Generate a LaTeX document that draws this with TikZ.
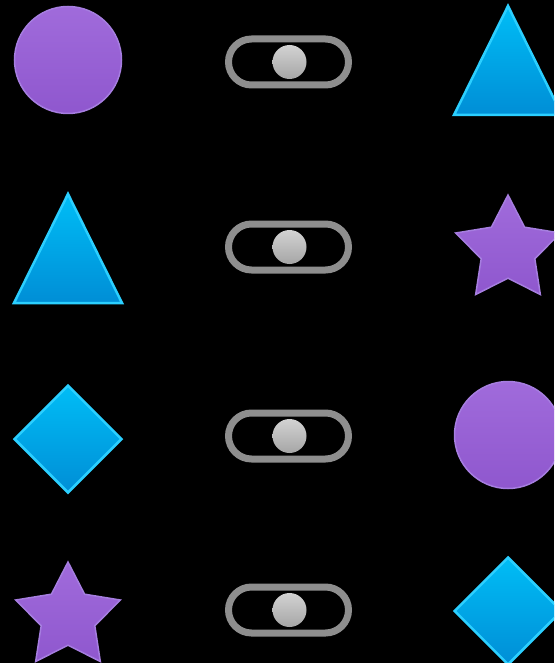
\documentclass[tikz,border=0pt]{standalone}
\usepackage{tikz}
\usepackage{xcolor}
\usetikzlibrary{shapes.geometric}

\definecolor{lilac}{HTML}{A06BDB}
\definecolor{lilacdark}{HTML}{8F57CE}
\definecolor{lilacedge}{HTML}{A67EE0}
\definecolor{skyblue}{HTML}{00BDF6}
\definecolor{skydark}{HTML}{008ED6}
\definecolor{skyedge}{HTML}{2BCFFF}
\definecolor{slidegray}{HTML}{8E8E8E}

\tikzset{
  purpleshape/.style={top color=lilac, bottom color=lilacdark, draw=lilacedge, line width=1.5pt, inner sep=0pt},
  blueshape/.style={top color=skyblue, bottom color=skydark, draw=skyedge, line width=2.5pt, inner sep=0pt},
  toggle/.style={draw=slidegray, line width=7pt, rounded corners=23pt, minimum width=120pt, minimum height=46pt, inner sep=0pt},
  knob/.style={circle, top color=gray!35, bottom color=gray!70, minimum size=34pt, inner sep=0pt}
}

\begin{document}
\begin{tikzpicture}[x=1pt,y=-1pt]
\clip (0,0) rectangle (554,663);
\fill[black] (0,0) rectangle (554,663);

% left column
\node[circle, purpleshape, minimum size=107pt] (circleL) at (68,60) {};
\draw[blueshape] (68,194) -- (122,303) -- (14,303) -- cycle;
\node[diamond, aspect=1, blueshape, minimum size=108pt] (diamondL) at (68,439) {};
\node[star, star points=5, star point ratio=1.95, purpleshape, minimum size=110pt] (starL) at (68,617) {};

% switches
\foreach \y/\n in {62/1, 247/2, 436/3, 610/4} {
  \node[toggle] (switch\n) at (288.5,\y) {};
  \node[knob] (knob\n) at (289.5,\y) {};
}

% right column
\draw[blueshape] (508,6) -- (562,115) -- (454,115) -- cycle;
\node[star, star points=5, star point ratio=1.95, purpleshape, minimum size=110pt] (starR) at (508,250) {};
\node[circle, purpleshape, minimum size=107pt] (circleR) at (508,435) {};
\node[diamond, aspect=1, blueshape, minimum size=108pt] (diamondR) at (508,611) {};
\end{tikzpicture}
\end{document}
